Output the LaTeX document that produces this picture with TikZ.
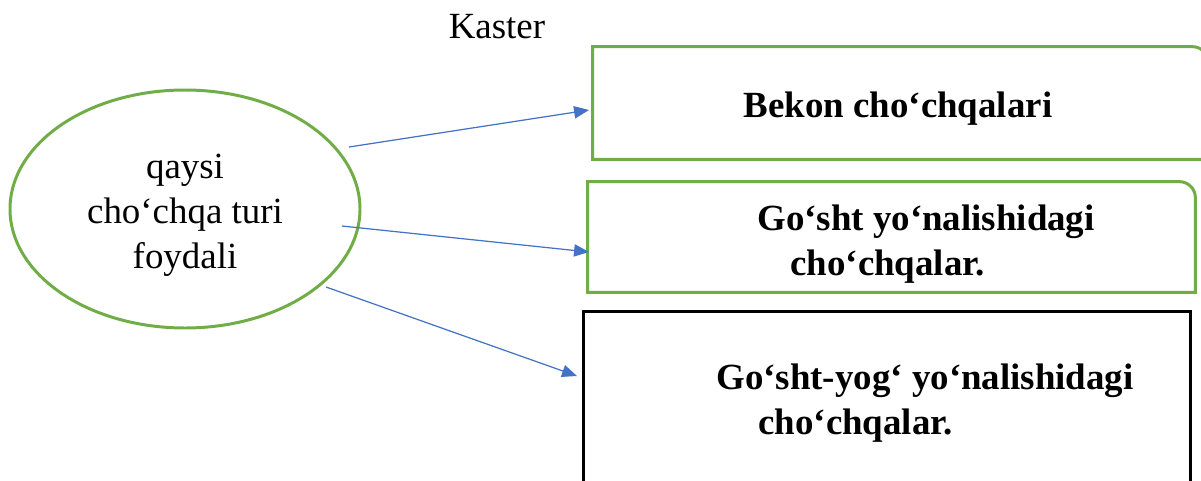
\documentclass[tikz,border=0pt]{standalone}
\usepackage{fontspec}
\setmainfont{Liberation Serif}
\usetikzlibrary{arrows.meta,shapes.geometric}

\definecolor{ovalgreen}{HTML}{70AD47}
\definecolor{arrowblue}{HTML}{4472C4}

\tikzset{
    greenline/.style={draw=ovalgreen, line width=1.7pt},
    arrowline/.style={draw=arrowblue, line width=0.7pt, -{Triangle[length=8.5pt,width=7pt]}},
    frame/.style={rectangle, inner sep=0pt},
    boxtext/.style={font=\fontsize{21}{25.5}\selectfont\bfseries, align=left, inner sep=0pt, anchor=north west},
}

\begin{document}
\begin{tikzpicture}[every node/.style={font=\fontsize{21}{25.5}\selectfont}]
    \useasboundingbox (0,0) rectangle (24.02,9.6);
    \clip (0,0) rectangle (24.02,9.6);

    % Nodes
    \node (kaster) at (9.94,9.06) {Kaster};
    \node[ellipse, greenline, minimum width=7cm, minimum height=4.76cm] (q) at (3.70,5.42) {};
    \node[align=center, inner sep=0pt] (qt) at ([yshift=-0.12cm]q.center) {qaysi\\cho‘chqa turi\\foydali};

    \node[frame, minimum width=12.30cm, minimum height=2.24cm] (b1) at (18.01,7.54) {};
    \node[frame, minimum width=12.14cm, minimum height=2.20cm] (b2) at (17.83,4.86) {};
    \node[frame, draw=black, line width=1.7pt, minimum width=12.14cm, minimum height=3.68cm] (b3) at (17.73,1.54) {};

    \node[font=\fontsize{21}{25.5}\selectfont\bfseries] (t1) at (17.96,7.42) {Bekon cho‘chqalari};
    \node[boxtext] (t2) at (15.14,5.50) {Go‘sht yo‘nalishidagi\\\hspace{0.66cm}cho‘chqalar.};
    \node[boxtext] (t3) at (14.32,2.32) {Go‘sht-yog‘ yo‘nalishidagi\\\hspace{0.84cm}cho‘chqalar.};

    % frames with one round corner
    \foreach \b in {b1,b2} {
        \draw[greenline] (\b.south west) -- (\b.north west) -- ([xshift=-0.32cm]\b.north east)
            arc[start angle=90, end angle=0, radius=0.32cm] -- (\b.south east) -- cycle;
    }

    % Edges
    \coordinate (s1) at (6.98,6.66);
    \coordinate (e1) at (11.78,7.40);
    \coordinate (s2) at (6.84,5.08);
    \coordinate (e2) at (11.78,4.56);
    \coordinate (s3) at (6.52,3.86);
    \coordinate (e3) at (11.54,2.08);
    \foreach \i in {1,2,3} {
        \draw[arrowline] (s\i) -- (e\i);
    }
\end{tikzpicture}
\end{document}
